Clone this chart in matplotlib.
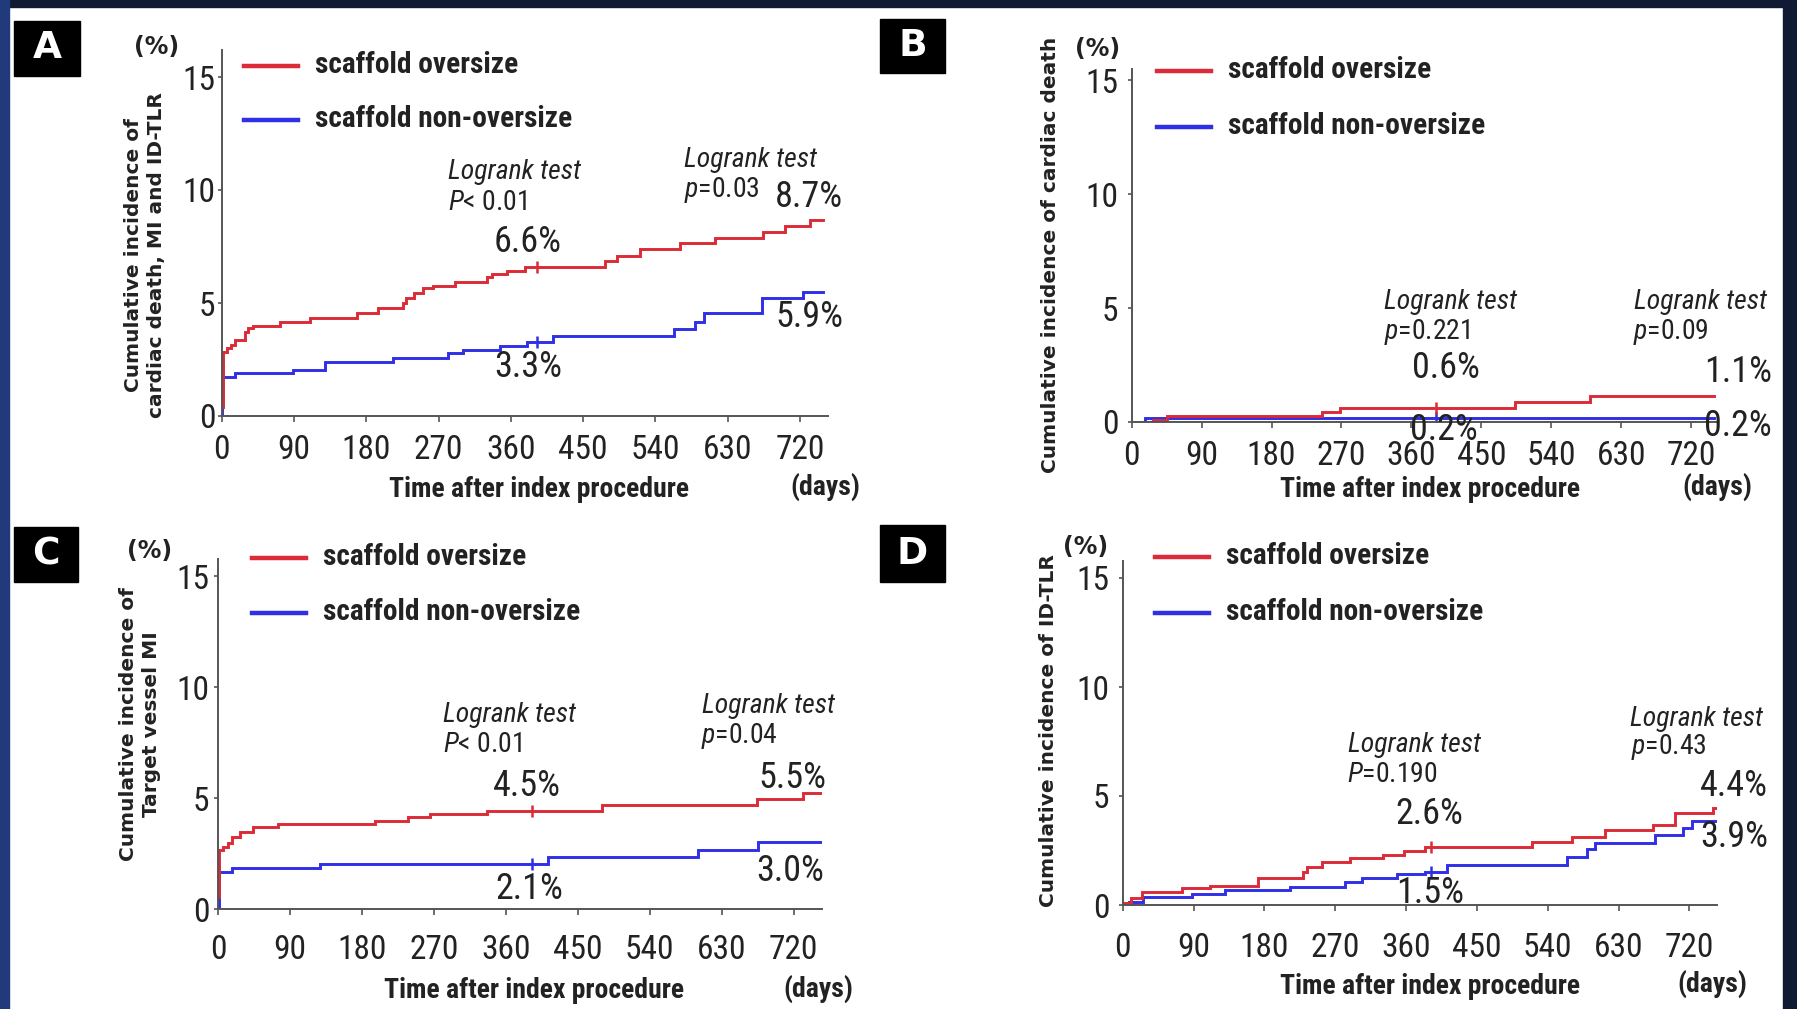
import matplotlib
matplotlib.use('Agg')
import matplotlib.pyplot as plt
from matplotlib import font_manager as fm
from matplotlib.patches import Rectangle
from matplotlib.lines import Line2D
import numpy as np

W, H = 1797, 1009


def pick_narrow():
    entries = fm.fontManager.ttflist
    names = {e.name for e in entries}
    for n in ['Liberation Sans Narrow', 'Arial Narrow', 'Roboto Condensed',
              'Open Sans Condensed', 'Noto Sans Condensed', 'DejaVu Sans Condensed',
              'Noto Sans SemiCondensed', 'Open Sans SemiCondensed']:
        if n in names:
            return dict(family=n)
    for want in ['condensed', 'semi-condensed']:
        for e in entries:
            if e.stretch == want and e.name in ('Noto Sans', 'DejaVu Sans', 'Open Sans', 'Roboto'):
                return dict(family=e.name, stretch=want)
    return dict(family='DejaVu Sans')


NF = pick_narrow()
pattern = NF['family'] + (':' + NF['stretch'] if 'stretch' in NF else '')
plt.rcParams['mathtext.fontset'] = 'custom'
plt.rcParams['mathtext.it'] = pattern + ':italic'
plt.rcParams['mathtext.rm'] = pattern

RED = '#dc2a36'
BLUE = '#2f2fe8'

x_ticks = [0, 90, 180, 270, 360, 450, 540, 630, 720]
y_ticks = [0, 5, 10, 15]
censor_day = 392

# A: cardiac death, MI and ID-TLR
a_red_days = [0, 1, 6, 12, 17, 29, 33, 39, 73, 110, 168, 195, 226, 230, 239, 251, 263,
              290, 330, 336, 355, 378, 477, 492, 521, 570, 614, 674, 701, 732, 749]
a_red_vals = [0.4, 2.85, 3.0, 3.14, 3.36, 3.73, 3.88, 4.0, 4.17, 4.32, 4.57, 4.76, 4.98,
              5.2, 5.43, 5.65, 5.75, 5.94, 6.17, 6.27, 6.42, 6.6, 6.87, 7.08, 7.37, 7.64,
              7.86, 8.16, 8.41, 8.67, 8.67]
a_blue_days = [0, 0.5, 17, 89, 129, 213, 282, 301, 346, 380, 413, 563, 589, 600, 672, 724, 749]
a_blue_vals = [0, 1.71, 1.89, 2.04, 2.40, 2.55, 2.77, 2.92, 3.08, 3.29, 3.55, 3.85, 4.17,
               4.54, 5.21, 5.50, 5.50]

# B: cardiac death
b_red_days = [0, 27, 45, 245, 268, 493, 590, 750]
b_red_vals = [0, 0.1, 0.27, 0.42, 0.61, 0.89, 1.15, 1.15]
b_blue_days = [0, 17, 750]
b_blue_vals = [0, 0.19, 0.19]

# C: target vessel MI
c_red_days = [0, 1, 6, 12, 17, 27, 44, 75, 196, 238, 265, 336, 480, 674, 732, 755]
c_red_vals = [0.57, 2.67, 2.82, 2.97, 3.27, 3.5, 3.72, 3.84, 4.0, 4.14, 4.29, 4.44, 4.70,
              4.97, 5.22, 5.22]
c_blue_days = [0, 0.5, 17, 127, 413, 601, 676, 755]
c_blue_vals = [0, 1.70, 1.85, 2.04, 2.37, 2.67, 3.02, 3.02]

# D: ID-TLR
d_red_days = [0, 10, 25, 75, 111, 172, 229, 234, 253, 289, 331, 357, 384, 520, 571, 613,
              674, 702, 750, 754]
d_red_vals = [0.1, 0.31, 0.61, 0.76, 0.89, 1.22, 1.53, 1.73, 1.99, 2.14, 2.29, 2.49, 2.65,
              2.91, 3.13, 3.44, 3.67, 4.21, 4.44, 4.44]
d_blue_days = [0, 8, 26, 88, 130, 213, 283, 304, 348, 384, 412, 564, 590, 600, 676, 712,
               723, 752]
d_blue_vals = [0, 0.15, 0.35, 0.49, 0.69, 0.84, 1.07, 1.22, 1.41, 1.5, 1.83, 2.22, 2.55,
               2.86, 3.21, 3.52, 3.87, 3.87]

legend_labels = ['scaffold oversize', 'scaffold non-oversize']

# panel geometry in pixels: origin (x, y), px per day, px per unit, ylim top
panels = [
    dict(letter='A', ox=221.7, oy=416, pxd=0.8033, pxu=22.6, ytop=16.2, ypad=2, xpad=12,
         red=(a_red_days, a_red_vals), blue=(a_blue_days, a_blue_vals),
         box=(14, 21, 66, 55), pct=(157, 47),
         ylabel='Cumulative incidence of\ncardiac death, MI and ID-TLR', yl=(145, 255),
         leg=(244, 66, 120), xl=(539, 489), days=(825, 487),
         notes=[('Logrank test', 515, 172, 'center'), (r'$P$< 0.01', 448, 202, 'left'),
                ('Logrank test', 751, 160, 'center'), (r'$p$=0.03', 684, 190, 'left')],
         pcts=[('6.6%', 528, 242), ('3.3%', 528, 367), ('8.7%', 809, 197), ('5.9%', 809, 317)]),
    dict(letter='B', ox=1131.7, oy=422, pxd=0.777, pxu=22.77, ytop=15.5, ypad=9, xpad=12,
         red=(b_red_days, b_red_vals), blue=(b_blue_days, b_blue_vals),
         box=(880, 19, 65, 54), pct=(1098, 49),
         ylabel='Cumulative incidence of cardiac death', yl=(1050, 255),
         leg=(1157, 71, 127), xl=(1430, 489), days=(1717, 487),
         notes=[('Logrank test', 1451, 302, 'center'), (r'$p$=0.221', 1384, 332, 'left'),
                ('Logrank test', 1700, 302, 'center'), (r'$p$=0.09', 1633, 332, 'left')],
         pcts=[('0.6%', 1446, 368), ('0.2%', 1444, 430), ('1.1%', 1738, 372), ('0.2%', 1738, 426)]),
    dict(letter='C', ox=218.3, oy=909.3, pxd=0.799, pxu=22.2, ytop=15.8, ypad=5, xpad=19,
         red=(c_red_days, c_red_vals), blue=(c_blue_days, c_blue_vals),
         box=(14, 527, 64, 55), pct=(150, 551),
         ylabel='Cumulative incidence of\nTarget vessel MI', yl=(140, 724),
         leg=(252, 558, 613), xl=(534, 991), days=(818, 989),
         notes=[('Logrank test', 510, 715, 'center'), (r'$P$< 0.01', 443, 745, 'left'),
                ('Logrank test', 768, 706, 'center'), (r'$p$=0.04', 701, 736, 'left')],
         pcts=[('4.5%', 527, 786), ('2.1%', 529, 889), ('5.5%', 792, 778), ('3.0%', 790, 871)]),
    dict(letter='D', ox=1122.7, oy=905, pxd=0.787, pxu=21.8, ytop=15.76, ypad=9, xpad=21,
         red=(d_red_days, d_red_vals), blue=(d_blue_days, d_blue_vals),
         box=(880, 525, 65, 57), pct=(1086, 547),
         ylabel='Cumulative incidence of ID-TLR', yl=(1049, 731),
         leg=(1155, 557, 613), xl=(1430, 987), days=(1712, 984),
         notes=[('Logrank test', 1414, 745, 'center'), (r'$P$=0.190', 1347, 774, 'left'),
                ('Logrank test', 1697, 719, 'center'), (r'$p$=0.43', 1631, 747, 'left')],
         pcts=[('2.6%', 1429, 814), ('1.5%', 1430, 893), ('4.4%', 1734, 786), ('3.9%', 1734, 837)]),
]

XMAX = 755


def fx(x):
    return x / W


def fy(y):
    return 1 - y / H


fig = plt.figure(figsize=(W / 100, H / 100), dpi=100, facecolor='white')

# scale narrow-font sizes so the x label is as wide as in the reference (302 px)
probe = fig.text(0, 0, 'Time after index procedure', fontsize=20, fontweight='bold', **NF)
fig.canvas.draw()
pw = probe.get_window_extent().width
probe.remove()
K = min(1.0, 302.0 / pw)

for p in panels:
    left = fx(p['ox'])
    width = XMAX * p['pxd'] / W
    height = p['ytop'] * p['pxu'] / H
    bottom = fy(p['oy'])
    ax = fig.add_axes([left, bottom, width, height])
    ax.set_xlim(0, XMAX)
    ax.set_ylim(0, p['ytop'])

    for (days, vals), col in [(p['blue'], BLUE), (p['red'], RED)]:
        ax.step(days, vals, where='post', color=col, lw=2.1, solid_joinstyle='miter')
        i = np.searchsorted(days, censor_day, side='right') - 1
        ax.plot([censor_day], [vals[i]], marker='|', ms=9, mew=1.8, color=col)

    for s in ['top', 'right']:
        ax.spines[s].set_visible(False)
    for s in ['left', 'bottom']:
        ax.spines[s].set_color('#555555')
        ax.spines[s].set_linewidth(1.4)
    ax.set_xticks(x_ticks)
    ax.set_yticks(y_ticks)
    ax.tick_params(axis='x', length=4, width=1.2, color='#555555', pad=p['xpad'] * 0.72,
                   labelsize=24 * K, labelcolor='#222222')
    ax.tick_params(axis='y', length=3, width=1.2, color='#555555', pad=p['ypad'] * 0.72,
                   labelsize=24 * K, labelcolor='#222222')
    for lab in ax.get_xticklabels() + ax.get_yticklabels():
        lab.set_fontfamily(NF['family'])
        if 'stretch' in NF:
            lab.set_fontstretch(NF['stretch'])

    # panel letter
    bx, by, bw, bh = p['box']
    fig.patches.append(Rectangle((fx(bx), fy(by + bh)), bw / W, bh / H,
                                 transform=fig.transFigure, color='black', zorder=2))
    fig.text(fx(bx + bw / 2), fy(by + bh / 2), p['letter'], color='white', fontsize=27,
             fontweight='bold', ha='center', va='center', zorder=3)

    fig.text(fx(p['pct'][0]), fy(p['pct'][1]), '(%)', fontsize=17, fontweight='bold',
             ha='center', va='center', color='#222222')
    fig.text(fx(p['yl'][0]), fy(p['yl'][1]), p['ylabel'], rotation=90, fontsize=14.5,
             fontweight='bold', ha='center', va='center', linespacing=1.25, color='#222222')

    # legend
    lx, ly1, ly2 = p['leg']
    for yy, col, lab in [(ly1, RED, legend_labels[0]), (ly2, BLUE, legend_labels[1])]:
        fig.add_artist(Line2D([fx(lx), fx(lx + 54)], [fy(yy), fy(yy)], color=col, lw=3.2,
                              transform=fig.transFigure))
        fig.text(fx(lx + 71), fy(yy - 1), lab, fontsize=21.2 * K, fontweight='bold',
                 ha='left', va='center', color='#222222', **NF)

    fig.text(fx(p['xl'][0]), fy(p['xl'][1]), 'Time after index procedure', fontsize=20 * K,
             fontweight='bold', ha='center', va='center', color='#222222', **NF)
    fig.text(fx(p['days'][0]), fy(p['days'][1]), '(days)', fontsize=20 * K, fontweight='bold',
             ha='center', va='center', color='#222222', **NF)

    for txt, x, y, ha in p['notes']:
        style = 'italic' if txt.startswith('Logrank') else 'normal'
        fig.text(fx(x), fy(y), txt, fontsize=20 * K, style=style,
                 ha=ha, va='center', color='#222222', **NF)
    for txt, x, y in p['pcts']:
        fig.text(fx(x), fy(y), txt, fontsize=26 * K, ha='center', va='center',
                 color='#222222', **NF)

# dark slide border
fig.patches.append(Rectangle((0, fy(7)), 1, 7 / H, transform=fig.transFigure,
                             color='#111a33', zorder=5))
fig.patches.append(Rectangle((0, 0), fx(9), 1, transform=fig.transFigure,
                             color='#203a7c', zorder=5))
fig.patches.append(Rectangle((fx(1783), 0), 14 / W, 1, transform=fig.transFigure,
                             color='#111a33', zorder=5))

fig.savefig('out.png', dpi=100, facecolor='white')
